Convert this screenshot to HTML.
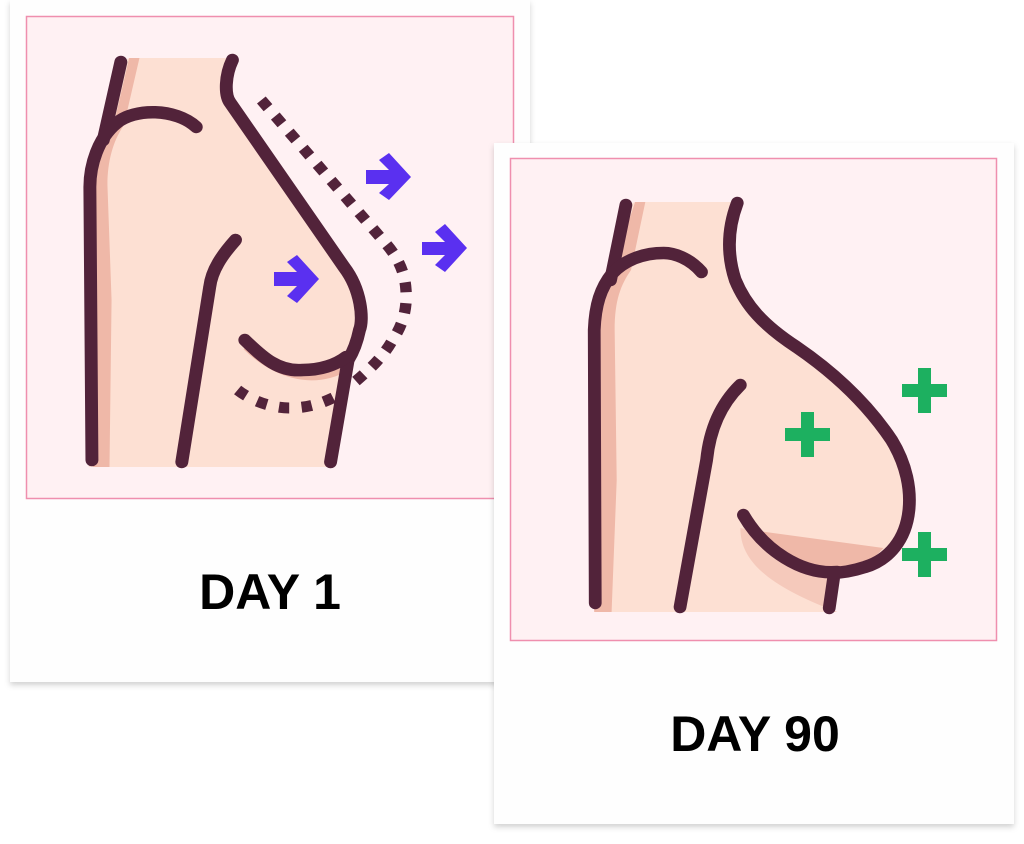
<!DOCTYPE html>
<html><head><meta charset="utf-8"><style>
html,body{margin:0;padding:0;width:1024px;height:844px;background:#fff;overflow:hidden}
svg{display:block}
text{font-family:"Liberation Sans",sans-serif;font-weight:bold;fill:#000}
</style></head><body>
<svg width="1024" height="844" viewBox="0 0 1024 844" xmlns="http://www.w3.org/2000/svg">
<defs>
<filter id="sh" x="-10%" y="-10%" width="120%" height="120%"><feDropShadow dx="0" dy="3" stdDeviation="3" flood-color="#000" flood-opacity="0.18"/></filter>
</defs>
<!-- Card 1 -->
<rect x="10" y="0" width="520" height="682" fill="#fefefe" filter="url(#sh)"/>
<rect x="26.5" y="16.5" width="487" height="482" fill="#fff1f3" stroke="#ef8fae" stroke-width="1.5"/>
<g transform="scale(1.033,1)">
 <path d="M125,58 L220,58 C215,80 218,95 225,105 L330,255 C350,285 355,320 345,350 L320,467 L86,467 L86,190 C86,160 95,140 110,125 L118,62 Z" fill="#fde0d3"/>
 <path d="M125,58 L135,58 L120,125 C110,140 104,160 104,185 L108,300 L106,467 L90,467 L86,190 C86,160 95,140 110,125 Z" fill="#efb8a8"/>
 <path d="M240,345 C265,370 300,385 335,365" fill="none" stroke="#efb8a8" stroke-width="12"/>
 <g fill="none" stroke="#52233a" stroke-width="12.5" stroke-linecap="round">
  <path d="M117,62 L100,140"/>
  <path d="M190,127 C170,108 130,108 113,123 C95,138 87,165 87,187 L89,460"/>
  <path d="M225,60 C218,75 217,95 223,103 L333,267 C350,290 352,320 348,330 C345,345 340,355 337,360 L320,462"/>
  <path d="M237,340 C255,358 270,372 293,370 C310,370 325,365 335,357"/>
  <path d="M228,240 C215,255 205,270 203,287 L176,462"/>
 </g>
 <g fill="none" stroke="#52233a" stroke-width="11">
  <path d="M253,100 L373,243 C385,257 392,272 393,290 C394,305 392,322 380,340 C372,355 360,368 340,385" stroke-dasharray="10 11"/>
  <path d="M230,390 C245,402 265,408 280,408 C300,408 315,402 328,395" stroke-dasharray="10 12"/>
 </g>
</g>
<g fill="#5a30f0">
  <path d="M366,170 L389,170 L379,160 L389,153 L411,177 L389,200 L379,193 L389,184 L366,184 Z"/>
  <path d="M422,242 L445,242 L435,232 L445,224 L467,248 L445,272 L435,265 L445,255 L422,255 Z"/>
  <path d="M274,272 L297,272 L287,262 L297,255 L319,279 L297,303 L287,296 L297,286 L274,286 Z"/>
</g>
<text x="270" y="609" font-size="50" text-anchor="middle">DAY 1</text>

<!-- Card 2 -->
<rect x="494" y="143" width="520" height="681" fill="#fefefe" filter="url(#sh)"/>
<rect x="510.5" y="158.5" width="486" height="482" fill="#fff1f3" stroke="#ef8fae" stroke-width="1.5"/>
<g transform="translate(490,0) scale(1.0218,1) translate(-490,0)">
 <path d="M632,202 L730,202 C722,240 725,285 757,320 C775,340 790,347 840,387 C870,410 900,455 902,495 C902,530 880,560 830,575 L823,612 L592,612 L592,330 C592,300 600,280 610,270 L622,206 Z" fill="#fde0d3"/>
 <path d="M632,202 L642,202 L628,270 C618,285 612,300 612,330 L614,480 L609,612 L592,612 L592,330 C592,300 600,280 610,270 Z" fill="#efb8a8"/>
 <path d="M735,528 C735,560 760,585 830,612 L823,612 L826,573 C790,575 760,560 745,530 Z" fill="#f5c9bb"/>
 <path d="M745,530 C765,555 800,575 830,572 C850,570 862,563 875,548 Z" fill="#efb8a8"/>
 <g fill="none" stroke="#52233a" stroke-width="12.5" stroke-linecap="round">
  <path d="M623,205 L608,280"/>
  <path d="M697,272 C685,258 670,253 660,253 C640,253 622,260 610,273 C598,288 593,305 592,330 L593,603"/>
  <path d="M732,203 C722,230 722,255 730,280 C740,305 757,325 790,347 C830,375 860,405 883,440 C898,465 902,490 900,510 C897,540 880,560 857,567 C845,571 835,573 823,573 L827,573 L822,608"/>
  <path d="M738,515 C758,550 795,575 830,572"/>
  <path d="M735,385 C715,405 705,430 702,460 L676,607"/>
 </g>
</g>
<g fill="#1db060">
  <rect x="785" y="428" width="45" height="13"/><rect x="801" y="412" width="13" height="45"/>
  <rect x="902" y="384" width="45" height="13"/><rect x="918" y="368" width="13" height="45"/>
  <rect x="902" y="548" width="45" height="13"/><rect x="918" y="532" width="13" height="45"/>
</g>
<text x="755" y="751" font-size="50" text-anchor="middle">DAY 90</text>
</svg>
</body></html>
